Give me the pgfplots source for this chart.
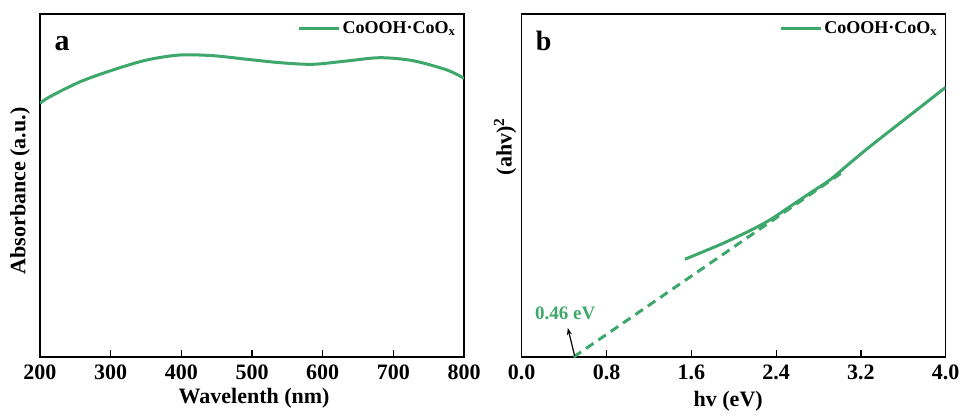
\documentclass[border=0pt]{standalone}
\usepackage{fontspec}
\setmainfont{Liberation Serif}
\usepackage{pgfplots}
\pgfplotsset{compat=1.18}
\usetikzlibrary{arrows.meta}
\definecolor{cgreen}{RGB}{62,168,108}

\begin{document}
\begin{tikzpicture}
\useasboundingbox (-40pt,-59pt) rectangle (923pt,357pt);
\pgfplotsset{
  every axis/.append style={
    scale only axis, width=424pt, height=343pt, anchor=south west,
    axis line style={line width=1.2pt},
    xtick pos=left, ytick=\empty, tick align=inside,
    major tick length=7pt,
    xtick style={black, line width=1.2pt},
    tick label style={font=\fontsize{22}{24}\selectfont\bfseries},
    xticklabel style={yshift=-4pt},
    label style={font=\fontsize{22}{26}\selectfont\bfseries},
    /pgf/number format/assume math mode=true,
    legend style={draw=none, fill=none, at={(0.985,0.985)}, anchor=north east,
      font=\fontsize{18}{20}\selectfont\bfseries, inner sep=0pt},
    legend image code/.code={\draw[#1] (0pt,0pt) -- (40pt,0pt);},
  }
}
% (a) absorbance spectrum
\begin{axis}[
  at={(0pt,0pt)},
  xmin=200, xmax=800, ymin=0, ymax=343,
  xtick={200,300,...,800},
  xlabel={Wavelenth (nm)},
  ylabel={Absorbance (a.u.)},
  xlabel style={at={(axis description cs:0.505,-0.12)}, anchor=center},
  ylabel style={at={(axis description cs:-0.047,0.484)}, anchor=center},
]
\addplot[cgreen, line width=3pt, smooth] coordinates {
  (200,253.7) (214,260.3) (257,275.3) (303,287) (351,297) (398,302)
  (445,301.3) (493,297.7) (540,294.3) (586,292.7) (634,296) (681,299.3)
  (728,296.3) (776,287) (800,278.7)
};
\legend{CoOOH·CoO\textsubscript{x}}
\node[font=\fontsize{30}{30}\selectfont\bfseries, anchor=base west]
  at (axis description cs:0.026,0.895) {a};
\end{axis}
% (b) Tauc plot
\begin{axis}[
  at={(481.7pt,0pt)},
  xmin=0, xmax=4, ymin=0, ymax=343,
  xtick={0,0.8,1.6,2.4,3.2,4.0},
  xticklabel style={/pgf/number format/.cd, fixed, fixed zerofill, precision=1},
  xlabel={hv (eV)},
  ylabel={(ahv)\textsuperscript{2}},
  xlabel style={at={(axis description cs:0.487,-0.128)}, anchor=center},
  ylabel style={at={(axis description cs:-0.039,0.613)}, anchor=center},
]
\addplot[cgreen, line width=3pt, smooth] coordinates {
  (1.539,97.7) (1.712,105.3) (1.900,113.7) (2.152,126.3) (2.340,137)
  (2.529,150.3) (2.717,163.7) (2.906,177) (3.094,193.7) (3.283,210.3)
  (3.5,228.3) (3.75,249) (4.0,269.7)
};
\addplot[cgreen, line width=3pt, dash pattern=on 9pt off 6pt, forget plot] coordinates {
  (0.49,0) (3.03,185)
};
\legend{CoOOH·CoO\textsubscript{x}}
\draw[-{Stealth[length=7pt,width=5pt]}, line width=1.2pt] (axis cs:0.50,1) -- (axis cs:0.435,29);
\node[cgreen, font=\fontsize{19}{22}\selectfont\bfseries] at (axis cs:0.41,44) {0.46 eV};
\node[font=\fontsize{28}{28}\selectfont\bfseries, anchor=base west]
  at (axis description cs:0.025,0.895) {b};
\end{axis}
\end{tikzpicture}
\end{document}
